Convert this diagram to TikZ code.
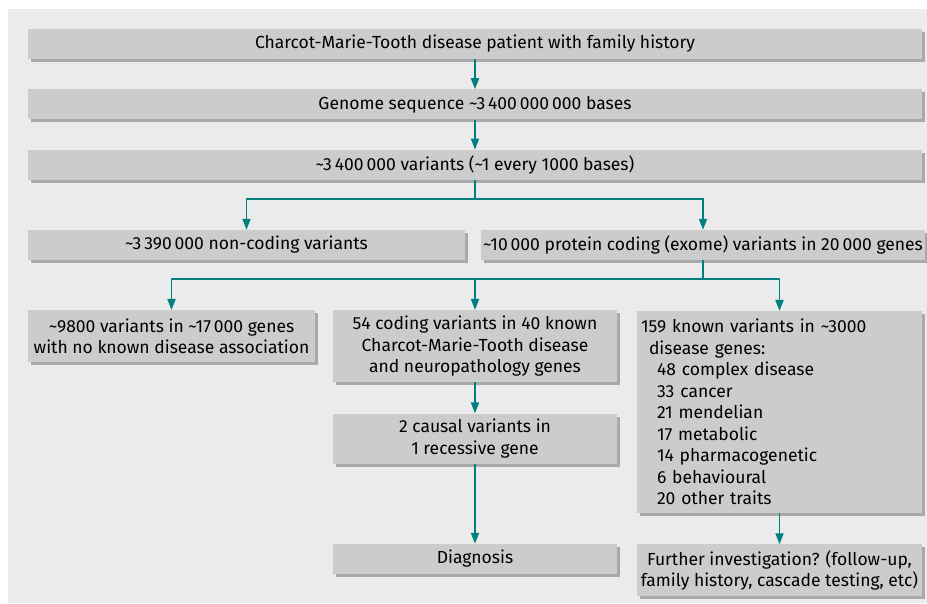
\documentclass[tikz,border=0pt]{standalone}
\usepackage{fontspec}
\setmainfont{Fira Sans}
\usetikzlibrary{arrows.meta,positioning,shadows}
\definecolor{panel}{HTML}{EBEBEB}
\definecolor{boxg}{HTML}{CCCCCC}
\definecolor{shade}{HTML}{A9A9A9}
\definecolor{teal2}{HTML}{00807E}
\tikzset{
  >={Triangle[length=11pt,width=8pt]},
  box/.style={fill=boxg,inner sep=2pt,align=center,font=\fontsize{17.5}{21.5}\selectfont,
    drop shadow={shadow xshift=3pt,shadow yshift=-3pt,fill=shade,opacity=1}},
  wbox/.style={box,minimum width=894pt,minimum height=30pt},
  arr/.style={->,draw=teal2,line width=1.8pt},
}
\newcommand{\tld}{\textasciitilde}

\begin{document}
\begin{tikzpicture}[x=1pt,y=1pt]
\useasboundingbox (0,0) rectangle (927,603);
\fill[panel] (8,0) rectangle (927,594);
\node[wbox] (patient) at (475,559) {Charcot-Marie-Tooth disease patient with family history};
\node[wbox,below=30pt of patient] (genome) {Genome sequence \tld3\,400\,000\,000 bases};
\node[wbox,below=30pt of genome] (variants) {\tld3\,400\,000 variants (\tld1 every 1000 bases)};
\node[box,minimum width=437pt,minimum height=30pt] (noncod) at (246.5,358) {\tld3\,390\,000 non-coding variants};
\node[box,minimum width=438pt,minimum height=30pt] (exome) at (703,358) {\tld10\,000 protein coding (exome) variants in 20\,000 genes};
\node[box,anchor=north,minimum width=287pt,minimum height=52pt] (nodis) at (171.5,293) {\tld9800 variants in \tld17\,000 genes\\with no known disease association};
\node[box,anchor=north,minimum width=284pt,minimum height=72pt] (cmt) at (475,293) {54 coding variants in 40 known\\Charcot-Marie-Tooth disease\\and neuropathology genes};
\node[box,minimum width=284pt,minimum height=50pt,below=31pt of cmt] (causal) {2 causal variants in\\1 recessive gene};
\node[box,minimum width=284pt,minimum height=30pt,below=80pt of causal] (diag) {Diagnosis};
\node[box,anchor=north,minimum width=285pt,minimum height=201pt,text width=277pt,inner xsep=4pt,inner ysep=8pt,align=left] (known) at (779.5,292)
  {159 known variants in \tld3000\\\hspace*{8pt}disease genes:\\\hspace*{16pt}48 complex disease\\\hspace*{16pt}33 cancer\\\hspace*{16pt}21 mendelian\\\hspace*{16pt}17 metabolic\\\hspace*{16pt}14 pharmacogenetic\\\hspace*{16pt}6 behavioural\\\hspace*{16pt}20 other traits};
\node[box,minimum width=285pt,minimum height=52pt,below=31pt of known] (further) {Further investigation? (follow-up,\\family history, cascade testing, etc)};
\draw[arr] (patient) -- (genome);
\draw[arr] (genome) -- (variants);
\draw[arr] (variants.south) -- ++(0,-19) -| (noncod.north);
\draw[arr] (variants.south) -- ++(0,-19) -| (exome.north);
\draw[arr] (exome.south) -- ++(0,-19) -| (nodis.north);
\draw[arr] (exome.south) -- ++(0,-19) -| (cmt.north);
\draw[arr] (exome.south) -- ++(0,-19) -| (known.north);
\draw[arr] (cmt) -- (causal);
\draw[arr] (causal) -- (diag);
\draw[arr] (known) -- (further);
\end{tikzpicture}
\end{document}
